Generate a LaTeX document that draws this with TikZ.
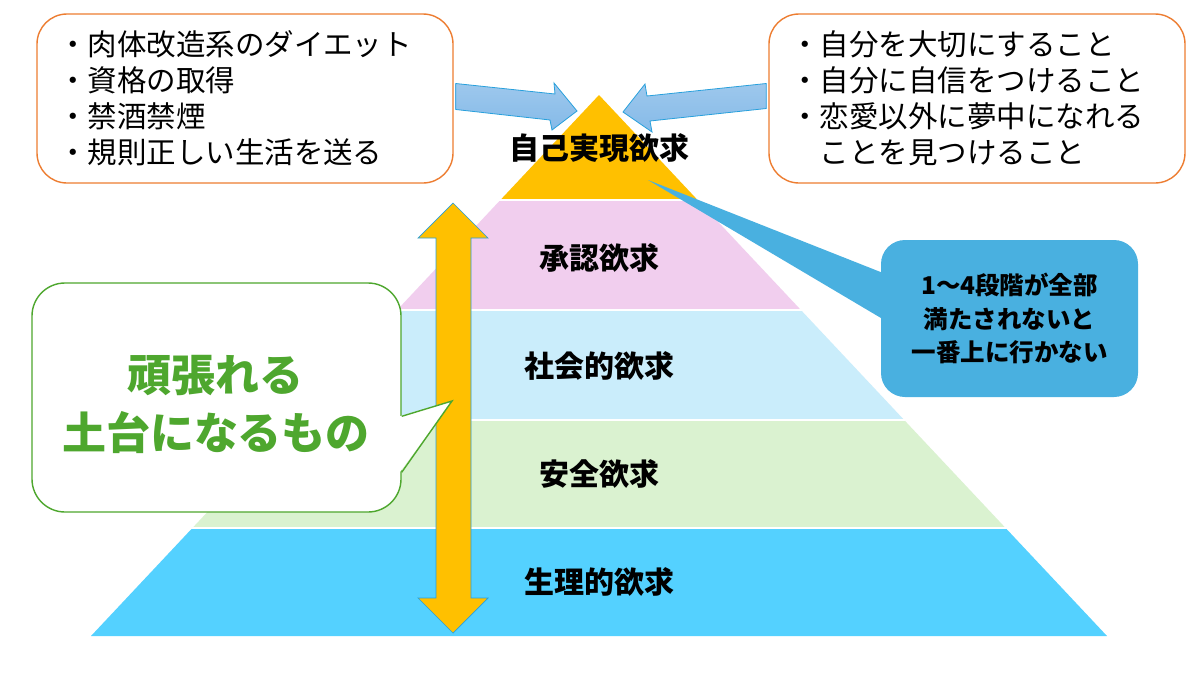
\documentclass[tikz,border=0pt]{standalone}
\usepackage{fontspec}
\newfontfamily\jp{Noto Sans CJK JP}
\newfontfamily\jpheavy{Noto Sans CJK JP Black}
\usetikzlibrary{calc}
\definecolor{pyorange}{RGB}{255,192,0}
\definecolor{pypink}{RGB}{241,206,238}
\definecolor{pysky}{RGB}{202,237,251}
\definecolor{pygreen}{RGB}{218,242,208}
\definecolor{pyblue}{RGB}{84,209,255}
\definecolor{boxorange}{RGB}{237,125,49}
\definecolor{callblue}{RGB}{73,176,224}
\definecolor{leafgreen}{RGB}{78,167,46}
\definecolor{arrowblue}{RGB}{133,186,232}
\definecolor{edgeblue}{RGB}{40,160,220}

\begin{document}
\begin{tikzpicture}[x=1pt,y=-1pt,font=\jp,
    lvl/.style={font=\jpheavy\fontsize{30}{32}\selectfont},
    listbox/.style={draw=boxorange,line width=1.4pt,rounded corners=30pt,fill=white,
      minimum width=416pt,minimum height=169pt,text width=374pt,align=left,
      font=\jp\fontsize{29.5}{36}\selectfont},
    barrow/.style={draw=edgeblue,line width=0.8pt,top color=arrowblue!80!white,bottom color=arrowblue},
    tip/.style={fill=callblue}]
  \useasboundingbox[fill=white] (0,0) rectangle (1200,675);

  % pyramid, top to bottom
  \foreach \ya/\yb/\col in {95/200/pyorange,200/310/pypink,310/420/pysky,420/528/pygreen,528/636/pyblue}
    \fill[\col] ({599-(\ya-95)*0.939},\ya) -- ({599+(\ya-95)*0.939},\ya)
      -- ({599+(\yb-95)*0.939},\yb) -- ({599-(\yb-95)*0.939},\yb) -- cycle;
  \foreach \y in {200,310,420,528}
    \draw[white,line width=2pt] ({599-(\y-95)*0.939-1},\y) -- ({599+(\y-95)*0.939+1},\y);

  \node[lvl] (l5) at (599,148) {自己実現欲求};
  \node[lvl] (l4) at (599,258) {承認欲求};
  \node[lvl] (l3) at (599,366) {社会的欲求};
  \node[lvl] (l2) at (599,474) {安全欲求};
  \node[lvl] (l1) at (599,582) {生理的欲求};

  % boxes at the top
  \node[listbox] (lbox) at (245,98.5) {・肉体改造系のダイエット\\・資格の取得\\・禁酒禁煙\\・規則正しい生活を送る};
  \node[listbox] (rbox) at (977,98.5) {・自分を大切にすること\\・自分に自信をつけること\\・恋愛以外に夢中になれる\\\hspace*{1em}ことを見つけること};
  \draw[barrow] ($(lbox.east)+(2,-15)$) -- (555,94) -- (554,83) -- (577,111)
    -- (552,130) -- (550,120) -- ($(lbox.east)+(2,11)$) -- cycle;
  \draw[barrow] ($(rbox.west)+(-2,-15)$) -- (647,96) -- (645,84) -- (623,112)
    -- (652,132) -- (650,121) -- ($(rbox.west)+(-2,10)$) -- cycle;

  % up/down arrow
  \coordinate (up) at (453,203);
  \coordinate (dn) at (453,633);
  \draw[fill=pyorange,draw=edgeblue,line width=0.7pt] (up) -- ++(35,35) -- ++(-17,0)
    -- ($(dn)+(18,-35)$) -- ++(17,0) -- (dn) -- ++(-35,-35) -- ++(18,0)
    -- ($(up)+(-17,35)$) -- ++(-18,0) -- cycle;

  % green bubble
  \node[draw=leafgreen,line width=1.4pt,fill=white,rounded corners=33pt,
    minimum width=369pt,minimum height=229pt] (gbox) at (216.5,397.5) {};
  \fill[white] ($(gbox.north east)+(-2,134)$) -- (452,401) -- ($(gbox.north east)+(-2,190)$) -- cycle;
  \draw[leafgreen,line width=1.4pt,line join=miter] ($(gbox.north east)+(0,134)$) coordinate (ga)
    -- (452,401) coordinate (gtip) -- ($(gbox.north east)+(0,190)$) coordinate (gb);
  \node[font=\jpheavy\fontsize{44}{58}\selectfont,text=leafgreen,align=center] (gtxt)
    at (216,404) {頑張れる\\土台になるもの};

  % blue note
  \node[fill=callblue,rounded corners=24pt,minimum width=257pt,minimum height=157pt,
    align=center,font=\jpheavy\fontsize{24.5}{33.5}\selectfont] (note) at (1009.5,318.5)
    {1～4段階が全部\\満たされないと\\一番上に行かない};
  \coordinate (ntip) at (648,180);
  \fill[tip] ($(note.west)+(1,-46)$) -- (ntip) -- ($(note.west)+(1,0)$) -- cycle;
\end{tikzpicture}
\end{document}
